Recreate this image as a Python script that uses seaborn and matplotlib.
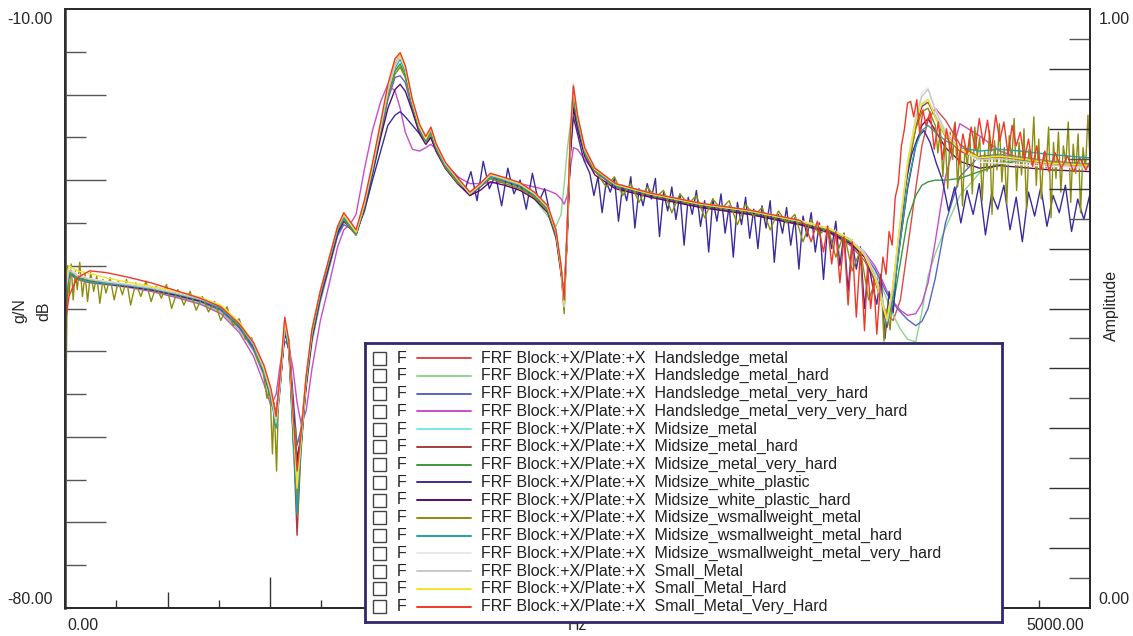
import numpy as np
import pandas as pd
import matplotlib
matplotlib.use("Agg")
import matplotlib.pyplot as plt
from matplotlib.patches import Rectangle
from matplotlib.lines import Line2D
from matplotlib.ticker import FixedLocator, NullFormatter
import seaborn as sns

sns.set_theme(style="white")
plt.rcParams["font.family"] = ["Liberation Sans", "DejaVu Sans"]

# ---------------------------------------------------------------------------
# Frequency grid (Hz) shared by the smoother traces
freq_hz = [0, 20, 60, 120, 200, 300, 420, 540, 660, 760,
           850, 920, 970, 1005, 1030, 1050, 1072, 1092, 1112, 1132,
           1152, 1176, 1205, 1245, 1290, 1330, 1360, 1390, 1420, 1460,
           1500, 1540, 1575, 1610, 1635, 1660, 1695, 1730, 1760, 1785,
           1810, 1855, 1915, 1975, 2025, 2075, 2145, 2220, 2290, 2355,
           2395, 2420, 2435, 2450, 2465, 2480, 2500, 2535, 2585, 2685,
           2855, 3100, 3340, 3585, 3730, 3830, 3900, 3950, 3985, 4010,
           4040, 4075, 4110, 4150, 4180, 4210, 4245, 4295, 4365, 4460,
           4560, 4660, 4805, 5000]

# FRF magnitudes (dB re g/N)
handsledge_metal = [
    -46.0, -40.9, -41.6, -41.9, -42.1, -42.4, -42.8, -43.4, -44.2, -45.2,
    -47.3, -49.8, -52.8, -55.6, -57.8, -53.2, -46.6, -49.6, -57.2, -63.5,
    -60.8, -54.2, -48.4, -43.7, -39.8, -36.1, -34.7, -35.4, -36.3, -33.4,
    -29.2, -24.4, -20.1, -16.6, -15.3, -17.0, -21.2, -24.2, -25.6, -24.5,
    -26.3, -28.4, -30.1, -31.6, -30.6, -29.5, -30.0, -30.7, -31.9, -33.6,
    -36.6, -40.9, -43.5, -36.8, -26.2, -19.9, -23.1, -26.8, -29.0, -30.8,
    -31.9, -33.1, -34.0, -35.2, -36.2, -37.6, -39.4, -41.8, -44.2, -45.8,
    -46.4, -44.0, -38.0, -31.0, -26.0, -23.0, -21.6, -23.0, -25.8, -27.4,
    -27.3, -27.6, -28.1, -28.4]

handsledge_metal_hard = [
    -44.5, -40.8, -41.5, -41.9, -42.1, -42.4, -42.9, -43.6, -44.4, -45.4,
    -47.5, -50.0, -53.0, -56.0, -57.5, -52.0, -47.0, -49.0, -56.5, -63.0,
    -59.5, -54.5, -49.0, -44.3, -40.2, -36.4, -35.0, -35.0, -36.0, -33.8,
    -29.6, -24.8, -20.5, -17.3, -16.6, -18.0, -21.6, -24.4, -25.6, -24.8,
    -26.4, -28.3, -30.0, -31.4, -30.8, -29.8, -30.4, -31.0, -32.2, -34.2,
    -35.4, -34.0, -30.5, -26.5, -23.4, -21.8, -23.6, -26.6, -28.6, -30.4,
    -31.5, -32.7, -33.6, -34.8, -35.9, -37.2, -38.6, -40.4, -42.4, -44.0,
    -45.8, -47.4, -48.6, -48.9, -45.4, -41.2, -38.6, -35.6, -31.8, -29.2,
    -27.9, -27.7, -28.0, -28.3]

handsledge_metal_very_hard = [
    -45.0, -40.8, -41.5, -41.9, -42.1, -42.4, -42.8, -43.5, -44.2, -45.2,
    -47.2, -49.8, -52.6, -55.4, -57.0, -53.0, -48.0, -48.6, -55.0, -61.0,
    -59.0, -54.0, -48.6, -44.0, -40.0, -36.5, -35.2, -35.6, -36.0, -33.2,
    -29.0, -24.6, -20.6, -18.0, -17.8, -18.6, -21.8, -24.6, -25.8, -25.0,
    -26.6, -28.6, -30.4, -31.6, -30.8, -29.8, -30.2, -30.8, -32.0, -33.8,
    -36.8, -41.0, -43.0, -36.0, -26.5, -21.0, -23.4, -26.8, -29.0, -30.8,
    -31.8, -33.0, -33.9, -35.0, -36.0, -37.3, -38.8, -40.4, -42.0, -43.3,
    -44.4, -45.4, -46.3, -47.0, -46.5, -45.0, -41.5, -35.0, -29.6, -27.2,
    -27.0, -27.3, -27.8, -28.1]

handsledge_metal_very_very_hard = [
    -44.0, -40.9, -41.6, -42.0, -42.2, -42.5, -43.0, -43.7, -44.5, -45.6,
    -47.8, -50.6, -53.8, -56.4, -55.0, -51.5, -48.8, -49.5, -52.0, -56.0,
    -58.5, -57.0, -52.0, -46.5, -42.0, -37.8, -35.8, -35.2, -34.0, -28.8,
    -24.2, -20.8, -18.8, -19.6, -21.6, -24.4, -26.4, -26.6, -26.2, -25.8,
    -26.4, -28.0, -29.6, -30.4, -30.4, -30.3, -30.2, -30.4, -30.8, -31.2,
    -31.6, -32.2, -32.8, -31.8, -28.6, -26.2, -26.4, -27.6, -29.0, -30.6,
    -31.6, -32.8, -33.6, -34.8, -35.8, -37.0, -38.4, -40.0, -41.6, -43.0,
    -44.2, -45.2, -45.8, -45.6, -44.4, -42.0, -37.2, -29.6, -23.4, -24.8,
    -26.6, -27.4, -28.0, -28.3]

midsize_metal = [
    -45.0, -40.7, -41.4, -41.8, -42.0, -42.3, -42.7, -43.3, -44.0, -44.9,
    -46.9, -49.3, -52.2, -55.1, -58.6, -53.9, -46.9, -49.3, -58.0, -67.0,
    -60.4, -53.4, -47.7, -43.1, -39.1, -35.6, -34.2, -35.2, -36.2, -32.9,
    -28.6, -23.9, -19.7, -16.7, -15.9, -17.3, -21.0, -23.9, -25.3, -24.1,
    -26.0, -28.2, -30.0, -31.7, -30.7, -29.5, -30.0, -30.6, -31.7, -33.3,
    -36.1, -40.3, -44.6, -35.8, -25.3, -19.4, -22.7, -26.5, -28.8, -30.6,
    -31.7, -32.9, -33.7, -34.9, -35.8, -37.0, -38.7, -41.1, -44.0, -46.6,
    -42.8, -35.6, -28.8, -23.6, -21.2, -20.6, -22.4, -24.7, -26.5, -27.4,
    -27.1, -27.4, -27.9, -28.2]

midsize_metal_hard = [
    -47.0, -40.6, -41.3, -41.7, -41.9, -42.2, -42.6, -43.2, -43.9, -44.8,
    -46.8, -49.2, -52.0, -55.0, -58.8, -54.2, -47.0, -49.6, -59.0, -71.5,
    -61.0, -53.6, -47.8, -43.2, -39.2, -35.7, -34.3, -35.3, -36.3, -33.0,
    -28.7, -24.0, -19.8, -16.4, -15.6, -17.2, -21.1, -24.0, -25.4, -24.2,
    -26.1, -28.3, -30.1, -31.8, -30.8, -29.6, -30.1, -30.7, -31.8, -33.4,
    -36.2, -40.5, -45.0, -35.6, -25.1, -19.6, -22.9, -26.6, -28.9, -30.7,
    -31.8, -33.0, -33.8, -35.0, -35.9, -37.1, -38.8, -41.3, -44.3, -47.2,
    -43.0, -35.8, -29.0, -23.8, -21.4, -20.9, -22.6, -24.9, -26.6, -27.5,
    -27.2, -27.5, -28.0, -28.3]

midsize_metal_very_hard = [
    -44.0, -40.7, -41.4, -41.8, -42.0, -42.3, -42.7, -43.3, -44.0, -44.9,
    -46.8, -49.2, -52.0, -55.0, -58.0, -53.6, -47.4, -50.0, -60.0, -64.8,
    -61.5, -53.8, -48.0, -43.4, -39.4, -35.8, -34.4, -35.4, -36.4, -33.2,
    -28.9, -24.2, -20.0, -17.2, -16.4, -17.8, -21.4, -24.2, -25.5, -24.3,
    -26.2, -28.3, -30.1, -31.7, -30.7, -29.6, -30.1, -30.7, -31.8, -33.4,
    -36.2, -40.4, -44.2, -36.0, -25.8, -20.2, -23.2, -26.7, -28.9, -30.7,
    -31.8, -33.0, -33.8, -35.0, -35.9, -37.2, -38.9, -41.4, -44.2, -46.0,
    -44.6, -39.6, -34.6, -31.8, -30.6, -30.2, -30.0, -30.0, -29.8, -29.0,
    -28.2, -27.7, -28.0, -28.3]

# white plastic tip: smooth up to 1.9 kHz, then a noisy record
white_plastic_hz = [
    0, 20, 60, 120, 200, 300, 420, 540, 660, 760,
    850, 920, 970, 1005, 1030, 1050, 1072, 1092, 1112, 1132,
    1152, 1176, 1205, 1245, 1290, 1330, 1360, 1390, 1420, 1460,
    1500, 1540, 1575, 1610, 1635, 1660, 1695, 1730, 1760, 1785,
    1810, 1855, 1915,
    1950, 1980, 2010, 2040, 2070, 2100, 2130, 2160, 2190, 2220,
    2250, 2280, 2310, 2340, 2370, 2400,
    2420, 2435, 2450, 2465, 2480, 2500, 2530,
    2560, 2580, 2600, 2620, 2640, 2660, 2680, 2700, 2720, 2740,
    2760, 2780, 2800, 2820, 2840, 2860, 2880, 2900, 2920, 2940,
    2960, 2980, 3000, 3020, 3040, 3060, 3080, 3100, 3120, 3140,
    3160, 3180, 3200, 3220, 3240, 3260, 3280, 3300, 3320, 3340,
    3360, 3380, 3400, 3420, 3440, 3460, 3480, 3500, 3520, 3540,
    3560, 3580, 3600, 3620, 3640, 3660, 3680, 3700, 3720, 3740,
    3760, 3780, 3800, 3820, 3840, 3860, 3880, 3900, 3920, 3940,
    3960, 3980, 4000, 4020, 4040, 4060, 4080, 4100, 4130, 4160,
    4190, 4220, 4250,
    4280, 4310, 4340, 4370, 4400, 4430, 4460, 4490, 4520, 4550,
    4580, 4610, 4640, 4670, 4700, 4730, 4760, 4790, 4820, 4850,
    4880, 4910, 4940, 4970, 5000]
midsize_white_plastic = [
    -45.0, -40.8, -41.5, -41.9, -42.1, -42.4, -42.8, -43.4, -44.1, -45.0,
    -47.0, -49.4, -52.4, -55.2, -58.0, -53.8, -48.0, -49.0, -56.0, -62.5,
    -60.0, -54.0, -48.4, -43.8, -39.8, -36.2, -34.8, -35.5, -36.0, -33.6,
    -30.0, -26.6, -23.6, -22.4, -22.0, -22.6, -23.6, -24.6, -25.4, -25.0,
    -26.4, -28.2, -29.6,
    -31.2, -29.0, -32.4, -27.8, -31.0, -29.4, -33.0, -28.6, -31.6, -30.0,
    -33.4, -29.2, -32.6, -31.0, -34.4, -37.0,
    -40.5, -44.0, -36.0, -27.0, -22.6, -24.6, -27.6,
    -29.2, -31.8, -29.6, -33.8, -30.2, -31.4, -29.8, -34.8, -30.6, -32.4,
    -29.6, -35.6, -31.0, -33.0, -30.4, -32.2, -29.8, -36.6, -31.4, -33.6,
    -30.8, -34.6, -31.6, -37.6, -32.0, -34.0, -31.2, -35.4, -32.4, -38.4,
    -32.2, -34.8, -31.6, -36.2, -33.0, -39.0, -32.6, -35.2, -32.0, -36.8,
    -33.4, -38.0, -33.0, -35.6, -32.4, -39.6, -34.0, -36.2, -33.2, -37.6,
    -34.4, -40.4, -34.2, -36.6, -33.8, -38.4, -35.0, -41.6, -35.4, -38.0,
    -34.8, -40.0, -36.2, -43.0, -37.0, -40.4, -37.8, -45.0, -39.8, -42.4,
    -44.5, -41.0, -48.5, -43.0, -45.5, -39.0, -35.0, -30.5, -27.0, -25.0,
    -24.2, -25.6, -28.0,
    -30.0, -33.6, -30.8, -35.0, -31.2, -34.0, -30.4, -36.4, -31.6, -33.4,
    -30.6, -35.8, -32.0, -37.2, -31.4, -34.2, -30.8, -35.4, -31.8, -33.8,
    -30.6, -36.0, -32.2, -34.6, -31.6]

midsize_white_plastic_hard = [
    -45.5, -40.8, -41.5, -41.9, -42.1, -42.4, -42.8, -43.4, -44.1, -45.0,
    -47.0, -49.5, -52.5, -55.4, -58.2, -53.6, -47.6, -49.8, -57.4, -63.0,
    -59.8, -53.8, -48.2, -43.6, -39.6, -36.0, -34.7, -35.6, -36.4, -33.4,
    -29.2, -25.0, -21.6, -19.4, -18.8, -19.6, -22.0, -24.6, -25.8, -25.0,
    -26.6, -28.6, -30.4, -31.8, -31.2, -30.2, -30.6, -31.2, -32.2, -33.8,
    -36.5, -40.6, -44.0, -36.6, -27.0, -21.6, -24.0, -27.2, -29.4, -31.0,
    -32.0, -33.2, -34.0, -35.2, -36.1, -37.4, -39.0, -41.5, -44.2, -46.2,
    -43.5, -37.0, -31.0, -26.0, -23.6, -22.8, -24.2, -26.2, -27.8, -28.6,
    -28.3, -28.5, -28.8, -29.0]

# small-weight midsize hammer, metal tip: noisy record over the full band
wsmallweight_hz = [
    0, 5, 12, 20, 30, 40, 50, 60, 72, 85,
    98, 110, 125, 140, 155, 170, 185, 200, 220, 240,
    260, 280, 300, 320, 345, 370, 395, 420, 445, 470,
    495, 520, 550, 580, 610, 640, 670, 700, 730, 760,
    790, 820, 850, 880, 910, 940, 965, 985, 1000, 1012,
    1020, 1032, 1042, 1055, 1072, 1092, 1105, 1115, 1125, 1135,
    1145, 1160, 1176, 1205, 1245, 1290, 1330, 1360, 1390, 1420,
    1460, 1500, 1540, 1575, 1610, 1635, 1660, 1695, 1730, 1760,
    1785, 1810, 1855, 1915, 1975, 2025, 2075, 2145, 2220, 2290,
    2355, 2395, 2420, 2435, 2450, 2465, 2480, 2500, 2535, 2570,
    2600, 2640, 2680, 2720, 2760, 2800, 2840, 2880, 2920, 2960,
    3000, 3040, 3080, 3120, 3160, 3200, 3240, 3280, 3320, 3360,
    3400, 3440, 3480, 3520, 3560, 3600, 3640, 3680, 3720, 3760,
    3800, 3840, 3880, 3920, 3960, 3985, 3995,
    4010, 4025, 4040, 4075, 4110, 4150, 4180, 4210,
    4245, 4258, 4270, 4282, 4294, 4306, 4318, 4330, 4342, 4354,
    4366, 4378, 4390, 4402, 4414, 4426, 4438, 4450, 4462, 4474,
    4486, 4498, 4510, 4522, 4534, 4546, 4558, 4570, 4582, 4594,
    4606, 4618, 4630, 4642, 4654, 4666, 4678, 4690, 4702, 4714,
    4726, 4738, 4750, 4762, 4774, 4786, 4798, 4810, 4822, 4834,
    4846, 4858, 4870, 4882, 4894, 4906, 4918, 4930, 4942, 4954,
    4966, 4978, 4990, 5000]
midsize_wsmallweight_metal = [
    -34.0, -55.0, -40.0, -43.5, -39.8, -44.0, -40.6, -42.8, -39.6, -43.6,
    -41.0, -44.2, -40.8, -43.0, -41.2, -44.4, -41.6, -43.2, -41.4, -44.0,
    -41.8, -43.4, -41.6, -44.6, -42.0, -43.6, -41.8, -44.2, -42.4, -43.8,
    -42.2, -45.0, -42.8, -44.6, -43.0, -45.2, -43.6, -45.4, -44.2, -46.4,
    -44.8, -47.0, -46.2, -48.6, -48.4, -51.0, -52.0, -55.5, -54.5, -62.0,
    -56.0, -64.0, -55.0, -52.0, -47.2, -49.6, -54.0, -62.0, -59.0, -69.0,
    -61.0, -57.0, -53.0, -48.0, -43.4, -39.4, -35.8, -34.6, -35.6, -36.4,
    -33.2, -28.8, -24.2, -20.2, -17.6, -16.8, -18.0, -21.4, -24.2, -25.6,
    -24.6, -26.3, -28.5, -30.3, -31.4, -30.6, -29.8, -30.4, -31.0, -32.0,
    -33.6, -36.4, -40.8, -45.6, -36.0, -25.8, -20.0, -23.2, -26.8, -28.4,
    -29.4, -30.8, -29.6, -31.8, -30.4, -32.6, -30.8, -32.0, -31.2, -33.8,
    -31.6, -32.8, -31.8, -34.4, -32.2, -33.4, -32.4, -35.2, -32.8, -34.2,
    -33.2, -35.8, -33.6, -35.0, -34.0, -37.2, -34.6, -36.4, -35.4, -39.0,
    -36.2, -40.6, -38.2, -44.0, -41.4, -43.6, -48.8,
    -45.0, -47.5, -42.0, -35.0, -28.6, -24.0, -22.0, -21.6,
    -23.6, -26.8, -24.0, -29.6, -25.2, -31.0, -24.4, -27.6, -23.2, -30.8,
    -25.8, -33.0, -26.0, -28.4, -24.6, -31.6, -23.8, -27.2, -25.0, -32.4,
    -26.6, -29.0, -24.2, -34.0, -25.4, -28.8, -23.4, -30.2, -26.2, -32.8,
    -24.8, -27.8, -22.8, -31.2, -25.6, -29.4, -24.0, -33.4, -26.4, -28.2,
    -22.6, -30.6, -25.2, -32.2, -26.8, -28.6, -23.8, -34.4, -25.6, -29.8,
    -24.4, -31.4, -26.0, -28.0, -23.2, -32.6, -25.8, -29.2, -24.6, -33.8,
    -26.2, -28.8, -22.4, -27.6]

midsize_wsmallweight_metal_hard = [
    -44.0, -40.8, -41.5, -41.9, -42.1, -42.3, -42.7, -43.3, -44.0, -45.0,
    -47.0, -49.4, -52.4, -55.4, -59.0, -54.0, -47.2, -49.6, -59.5, -69.0,
    -61.0, -53.8, -48.0, -43.3, -39.3, -35.8, -34.4, -35.3, -36.2, -33.0,
    -28.8, -24.0, -19.9, -16.9, -15.8, -17.4, -21.2, -24.0, -25.4, -24.2,
    -26.1, -28.3, -30.0, -31.6, -30.7, -29.6, -30.0, -30.6, -31.7, -33.3,
    -36.0, -40.2, -44.6, -35.6, -25.4, -19.6, -23.0, -26.6, -28.8, -30.6,
    -31.6, -32.8, -33.6, -34.8, -35.7, -36.9, -38.6, -41.0, -44.0, -46.8,
    -43.6, -37.0, -30.6, -26.0, -24.2, -23.6, -24.4, -25.4, -26.2, -26.6,
    -26.4, -26.6, -27.0, -27.4]

midsize_wsmallweight_metal_very_hard = [
    -43.0, -40.2, -41.0, -41.5, -41.8, -42.1, -42.5, -43.1, -43.8, -44.7,
    -46.6, -49.0, -51.8, -54.8, -58.2, -53.4, -46.6, -49.0, -57.6, -65.0,
    -60.0, -53.0, -47.4, -42.9, -38.9, -35.4, -34.0, -35.0, -36.0, -32.7,
    -28.4, -23.7, -19.5, -16.6, -15.6, -17.0, -20.8, -23.7, -25.1, -23.9,
    -25.8, -28.0, -29.8, -31.5, -30.5, -29.3, -29.8, -30.4, -31.5, -33.1,
    -35.9, -40.1, -44.8, -35.4, -24.6, -18.6, -22.3, -26.2, -28.6, -30.4,
    -31.5, -32.7, -33.5, -34.7, -35.6, -36.8, -38.5, -40.9, -43.8, -46.4,
    -42.4, -34.8, -27.6, -22.4, -19.8, -19.2, -21.6, -24.2, -26.2, -27.9,
    -28.0, -28.2, -28.4, -28.6]

small_metal = [
    -43.5, -40.5, -41.2, -41.6, -41.9, -42.2, -42.6, -43.2, -43.9, -44.8,
    -46.8, -49.2, -52.1, -55.0, -58.4, -53.6, -46.7, -49.2, -57.8, -65.5,
    -60.2, -53.2, -47.5, -43.0, -39.0, -35.5, -34.1, -35.1, -36.1, -32.8,
    -28.5, -23.8, -19.6, -16.5, -15.4, -16.9, -20.9, -23.8, -25.2, -24.0,
    -25.9, -28.1, -29.9, -31.6, -30.6, -29.4, -29.9, -30.5, -31.6, -33.2,
    -36.0, -40.2, -44.6, -35.6, -24.8, -18.8, -22.5, -26.4, -28.7, -30.5,
    -31.6, -32.8, -33.6, -34.8, -35.7, -36.9, -38.6, -41.0, -43.9, -46.5,
    -42.6, -35.2, -28.2, -22.8, -20.2, -19.4, -21.8, -24.4, -26.4, -27.6,
    -27.5, -27.8, -28.2, -28.5]

small_metal_hard = [
    -42.0, -40.0, -40.6, -40.9, -41.4, -41.9, -42.4, -43.0, -43.7, -44.6,
    -46.6, -49.0, -51.8, -54.6, -57.8, -53.0, -46.2, -48.8, -57.4, -66.0,
    -60.0, -53.2, -47.5, -43.0, -39.0, -35.4, -34.0, -35.0, -36.0, -32.6,
    -28.2, -23.4, -19.0, -15.9, -15.3, -16.8, -20.8, -23.7, -25.1, -23.9,
    -25.8, -28.0, -29.8, -31.5, -30.5, -29.3, -29.8, -30.4, -31.5, -33.1,
    -35.9, -40.1, -44.2, -35.6, -25.0, -19.4, -22.6, -26.4, -28.7, -30.5,
    -31.6, -32.8, -33.6, -34.8, -35.7, -37.0, -38.8, -41.4, -44.4, -46.4,
    -42.0, -34.6, -28.0, -23.2, -21.0, -20.6, -22.6, -24.8, -26.4, -27.4,
    -27.2, -27.5, -28.0, -28.3]

# small hammer, very hard tip: smooth to 3.6 kHz, noisy above
small_very_hard_hz = [
    0, 20, 60, 120, 200, 300, 420, 540, 660, 760,
    850, 920, 970, 1005, 1030, 1050, 1072, 1092, 1112, 1132,
    1152, 1176, 1205, 1245, 1290, 1330, 1360, 1390, 1420, 1460,
    1500, 1540, 1575, 1610, 1635, 1660, 1695, 1730, 1760, 1785,
    1810, 1855, 1915, 1975, 2025, 2075, 2145, 2220, 2290, 2355,
    2395, 2420, 2435, 2450, 2465, 2480, 2500, 2535, 2585, 2685,
    2855, 3100, 3340, 3585,
    3610, 3640, 3670, 3700, 3720, 3740, 3760, 3780, 3800, 3820,
    3840, 3860, 3880, 3900, 3915, 3930, 3945, 3960, 3975, 3990,
    4005, 4020, 4035, 4050, 4065, 4080, 4095, 4110, 4125, 4140,
    4155, 4170, 4185, 4200, 4220, 4240, 4260, 4280, 4300, 4320,
    4340, 4360, 4380, 4400, 4420, 4440, 4460, 4480, 4500, 4520,
    4540, 4560, 4580, 4600, 4620, 4640, 4660, 4680, 4700, 4720,
    4740, 4760, 4780, 4800, 4830, 4860, 4890, 4920, 4950, 4980,
    5000]
small_metal_very_hard = [
    -47.0, -43.5, -41.4, -40.6, -40.8, -41.3, -42.0, -42.9, -43.8, -44.8,
    -46.8, -49.0, -51.6, -54.4, -57.6, -52.6, -46.0, -48.8, -57.0, -64.0,
    -59.6, -53.0, -47.4, -43.0, -39.0, -35.4, -33.8, -34.8, -35.8, -32.4,
    -28.0, -23.2, -18.8, -15.8, -15.1, -16.6, -20.6, -23.5, -24.9, -23.8,
    -25.7, -27.9, -29.7, -31.4, -30.4, -29.2, -29.7, -30.3, -31.4, -33.0,
    -35.8, -40.0, -44.0, -35.2, -24.6, -19.0, -22.4, -26.2, -28.6, -30.4,
    -31.5, -32.7, -33.5, -34.7,
    -35.2, -37.2, -34.8, -38.4, -35.4, -39.8, -36.0, -42.0, -36.6, -44.6,
    -37.2, -46.0, -38.4, -47.6, -40.0, -45.0, -41.6, -48.0, -43.0, -39.0,
    -41.0, -36.0, -37.6, -32.0, -30.4, -26.0, -24.0, -21.0, -20.8, -22.6,
    -20.6, -24.6, -21.8, -23.6, -22.0, -26.4, -23.2, -27.6, -24.0, -26.8,
    -23.4, -28.2, -24.6, -27.0, -23.8, -26.4, -22.8, -25.8, -23.0, -26.6,
    -22.4, -25.4, -23.2, -27.0, -23.6, -26.0, -24.4, -27.6, -25.2, -28.4,
    -26.0, -28.8, -26.6, -29.0, -26.8, -28.6, -27.2, -29.0, -27.4, -28.8,
    -27.8]

trace_names = [
    "Handsledge_metal", "Handsledge_metal_hard", "Handsledge_metal_very_hard",
    "Handsledge_metal_very_very_hard", "Midsize_metal", "Midsize_metal_hard",
    "Midsize_metal_very_hard", "Midsize_white_plastic", "Midsize_white_plastic_hard",
    "Midsize_wsmallweight_metal", "Midsize_wsmallweight_metal_hard",
    "Midsize_wsmallweight_metal_very_hard", "Small_Metal", "Small_Metal_Hard",
    "Small_Metal_Very_Hard"]

trace_colors = [
    "#d84a4a", "#8cd68c", "#5866c4", "#c84ec8", "#80e6e6",
    "#a83c3c", "#3c983c", "#3a2c9a", "#5c0a6e", "#8c8c10",
    "#20a4a4", "#e8e8e8", "#c8c8c8", "#f4e428", "#f03828"]

trace_data = [
    (freq_hz, handsledge_metal),
    (freq_hz, handsledge_metal_hard),
    (freq_hz, handsledge_metal_very_hard),
    (freq_hz, handsledge_metal_very_very_hard),
    (freq_hz, midsize_metal),
    (freq_hz, midsize_metal_hard),
    (freq_hz, midsize_metal_very_hard),
    (white_plastic_hz, midsize_white_plastic),
    (freq_hz, midsize_white_plastic_hard),
    (wsmallweight_hz, midsize_wsmallweight_metal),
    (freq_hz, midsize_wsmallweight_metal_hard),
    (freq_hz, midsize_wsmallweight_metal_very_hard),
    (freq_hz, small_metal),
    (freq_hz, small_metal_hard),
    (small_very_hard_hz, small_metal_very_hard),
]

frames = [pd.DataFrame({"Hz": hz, "dB": db, "trace": name})
          for name, (hz, db) in zip(trace_names, trace_data)]
df = pd.concat(frames, ignore_index=True)

# ---------------------------------------------------------------------------
W, H = 1133, 636
fig = plt.figure(figsize=(W / 100, H / 100), dpi=100)
fig.patch.set_facecolor("white")


def fx(px):
    return px / W


def fy(py):
    return 1 - py / H


ax = fig.add_axes([fx(65), fy(608), fx(1090) - fx(65), fy(9) - fy(608)])
ax.set_facecolor("white")

sns.lineplot(data=df, x="Hz", y="dB", hue="trace", hue_order=trace_names,
             palette=dict(zip(trace_names, trace_colors)), estimator=None,
             sort=False, linewidth=1.0, legend=False, ax=ax)

ax.set_xlim(0, 5000)
ax.set_ylim(-80, -10)
ax.set_xlabel("")
ax.set_ylabel("")

tick_col = "#555555"
# left dB axis: long ticks every 10 dB, short ones in between
ax.yaxis.set_major_locator(FixedLocator([-70, -60, -50, -40, -30, -20]))
ax.yaxis.set_minor_locator(FixedLocator([-75, -65, -55, -45, -35, -25, -15]))
ax.tick_params(axis="y", which="major", direction="in", length=29.5, width=1.0,
               color=tick_col, left=True, labelleft=False)
ax.tick_params(axis="y", which="minor", direction="in", length=15, width=1.0,
               color=tick_col, left=True)

# frequency axis: tall ticks per kHz, medium per 500 Hz, short per 250 Hz
ax.xaxis.set_major_locator(FixedLocator([1000, 2000, 3000, 4000]))
ax.xaxis.set_minor_locator(FixedLocator([250, 750, 1250, 1750, 2250, 2750,
                                         3250, 3750, 4250, 4750]))
ax.tick_params(axis="x", which="major", direction="in", length=22, width=1.0,
               color="#333333", bottom=True, labelbottom=False)
ax.tick_params(axis="x", which="minor", direction="in", length=6, width=1.0,
               color="#333333", bottom=True)
sec = ax.secondary_xaxis("bottom")
sec.xaxis.set_major_locator(FixedLocator([500, 1500, 2500, 3500, 4500]))
sec.xaxis.set_major_formatter(NullFormatter())
sec.tick_params(axis="x", direction="in", length=11.5, width=1.0,
                color="#333333")
sec.spines["bottom"].set_visible(False)

# right amplitude axis
ax2 = ax.twinx()
ax2.set_ylim(0, 1)
ax2.yaxis.set_major_locator(FixedLocator([0.1, 0.2, 0.3, 0.4, 0.5, 0.6, 0.7, 0.8, 0.9]))
ax2.yaxis.set_minor_locator(FixedLocator([0.05, 0.15, 0.25, 0.35, 0.45, 0.55,
                                          0.65, 0.75, 0.85, 0.95]))
ax2.tick_params(axis="y", which="major", direction="in", length=29.5, width=1.0,
                color="#333333", right=True, labelright=False)
ax2.tick_params(axis="y", which="minor", direction="in", length=15, width=1.0,
                color="#555555", right=True)

for a in (ax, ax2):
    for sp in a.spines.values():
        sp.set_color("#2a2a2a")
        sp.set_linewidth(1.3)
ax.spines["left"].set_color("#555555")
ax.spines["left"].set_linewidth(2.0)

fs = 11.5
fig.text(fx(53), fy(19), "-10.00", ha="right", va="center", fontsize=fs)
fig.text(fx(53), fy(600), "-80.00", ha="right", va="center", fontsize=fs)
fig.text(fx(1099), fy(19), "1.00", ha="left", va="center", fontsize=fs)
fig.text(fx(1098), fy(600), "0.00", ha="left", va="center", fontsize=fs)
fig.text(fx(67), fy(626), "0.00", ha="left", va="center", fontsize=fs)
fig.text(fx(1084), fy(626), "5000.00", ha="right", va="center", fontsize=fs)
fig.text(fx(577), fy(626), "Hz", ha="center", va="center", fontsize=fs)
fig.text(fx(20), fy(311), "g/N", ha="center", va="center", rotation=90, fontsize=fs)
fig.text(fx(44), fy(311), "dB", ha="center", va="center", rotation=90, fontsize=fs)
fig.text(fx(1111), fy(305), "Amplitude", ha="center", va="center", rotation=90,
         fontsize=fs)

# ---------------------------------------------------------------------------
# legend panel
lg = fig.add_axes([fx(365), fy(622), fx(1002) - fx(365), fy(343) - fy(622)],
                  zorder=5)
lg.set_xlim(0, 637)
lg.set_ylim(279, 0)
lg.set_xticks([])
lg.set_yticks([])
lg.set_facecolor("white")
for sp in lg.spines.values():
    sp.set_color("#33276e")
    sp.set_linewidth(2.0)

for i, (name, col) in enumerate(zip(trace_names, trace_colors)):
    yc = 15 + i * 17.75
    lg.add_patch(Rectangle((8, yc - 6.5), 13, 13, fill=False, ec="#444444", lw=1.0))
    lg.text(32, yc, "F", ha="left", va="center", fontsize=fs, color="#222222")
    lg.add_line(Line2D([52, 106], [yc, yc], color=col, lw=1.4))
    lg.text(116, yc, "FRF Block:+X/Plate:+X  " + name, ha="left", va="center",
            fontsize=fs, color="#222222")

fig.savefig("out.png", dpi=100, facecolor="white")
